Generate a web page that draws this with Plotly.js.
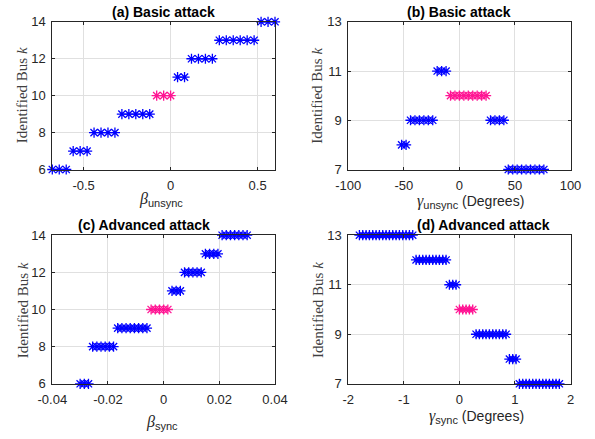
<!DOCTYPE html>
<html>
<head>
<meta charset="utf-8">
<script src="https://cdn.plot.ly/plotly-3.0.1.min.js"></script>
<style>html,body{margin:0;padding:0;background:#fff;}#chart{width:595px;height:439px;}</style>
</head>
<body>
<div id="chart"></div>
<script>
// ---- Data ----
// (a) Basic attack: beta_unsync vs identified bus
const betaUnsync = [-0.68,-0.64,-0.60,-0.56,-0.52,-0.48,-0.44,-0.40,-0.36,-0.32,-0.28,-0.24,-0.20,-0.16,-0.12,-0.08,-0.04,0,0.04,0.08,0.12,0.16,0.20,0.24,0.28,0.32,0.36,0.40,0.44,0.48,0.52,0.56,0.60];
const busA = [6,6,6,7,7,7,8,8,8,8,9,9,9,9,9,10,10,10,11,11,12,12,12,12,13,13,13,13,13,13,14,14,14];
// (b) Basic attack: gamma_unsync (degrees)
const gammaUnsync = [-52,-48,-44,-40,-36,-32,-28,-24,-20,-16,-12,-8,-4,0,4,8,12,16,20,24,28,32,36,40,44,48,52,56,60,64,68,72,76];
const busB = [8,8,9,9,9,9,9,9,11,11,11,10,10,10,10,10,10,10,10,10,9,9,9,9,7,7,7,7,7,7,7,7,7];
// (c) Advanced attack: beta_sync
const betaSync = [-0.030,-0.0285,-0.027,-0.0255,-0.024,-0.0225,-0.021,-0.0195,-0.018,-0.0165,-0.015,-0.0135,-0.012,-0.0105,-0.009,-0.0075,-0.006,-0.0045,-0.003,-0.0015,0,0.0015,0.003,0.0045,0.006,0.0075,0.009,0.0105,0.012,0.0135,0.015,0.0165,0.018,0.0195,0.021,0.0225,0.024,0.0255,0.027,0.0285,0.030];
const busC = [6,6,6,8,8,8,8,8,8,9,9,9,9,9,9,9,9,10,10,10,10,10,11,11,11,12,12,12,12,12,13,13,13,13,14,14,14,14,14,14,14];
// (d) Advanced attack: gamma_sync (degrees)
const gammaSync = [-1.80,-1.74,-1.68,-1.62,-1.56,-1.50,-1.44,-1.38,-1.32,-1.26,-1.20,-1.14,-1.08,-1.02,-0.96,-0.90,-0.84,-0.78,-0.72,-0.66,-0.60,-0.54,-0.48,-0.42,-0.36,-0.30,-0.24,-0.18,-0.12,-0.06,0,0.06,0.12,0.18,0.24,0.30,0.36,0.42,0.48,0.54,0.60,0.66,0.72,0.78,0.84,0.90,0.96,1.02,1.08,1.14,1.20,1.26,1.32,1.38,1.44,1.50,1.56,1.62,1.68,1.74,1.80];
const busD = [13,13,13,13,13,13,13,13,13,13,13,13,13,13,13,13,13,12,12,12,12,12,12,12,12,12,12,11,11,11,10,10,10,10,10,9,9,9,9,9,9,9,9,9,9,8,8,8,7,7,7,7,7,7,7,7,7,7,7,7,7];
const trueBus = 10;

// Tick values / labels
const xTicksA = [-0.5, 0, 0.5], xLabelsA = ['-0.5','0','0.5'];
const yTicksAC = [6,8,10,12,14], yLabelsAC = ['6','8','10','12','14'];
const xTicksB = [-100,-50,0,50,100], xLabelsB = ['-100','-50','0','50','100'];
const yTicksBD = [7,9,11,13], yLabelsBD = ['7','9','11','13'];
const xTicksC = [-0.04,-0.02,0,0.02,0.04], xLabelsC = ['-0.04','-0.02','0','0.02','0.04'];
const xTicksD = [-2,-1,0,1,2], xLabelsD = ['-2','-1','0','1','2'];

const titles = ['(a) Basic attack','(b) Basic attack','(c) Advanced attack','(d) Advanced attack'];

// ---- Styling ----
const W = 595, H = 439;
const BLUE = '#0000ff', PINK = '#ff1493';
const AX = '#262626';
const px = x => x / W;
const py = y => 1 - y / H;

function traces(xs, ys, xa, ya) {
  const blueX = [], blueY = [], pinkX = [], pinkY = [];
  xs.forEach((v, i) => {
    if (ys[i] === trueBus) { pinkX.push(v); pinkY.push(ys[i]); }
    else { blueX.push(v); blueY.push(ys[i]); }
  });
  const mk = c => ({symbol: 'asterisk-open', size: 8.5, color: c, line: {color: c, width: 1.3}});
  return [
    {x: blueX, y: blueY, xaxis: xa, yaxis: ya, type: 'scatter', mode: 'markers', marker: mk(BLUE), cliponaxis: false, showlegend: false, hoverinfo: 'x+y'},
    {x: pinkX, y: pinkY, xaxis: xa, yaxis: ya, type: 'scatter', mode: 'markers', marker: mk(PINK), cliponaxis: false, showlegend: false, hoverinfo: 'x+y'}
  ];
}

const data = [].concat(
  traces(betaUnsync, busA, 'x', 'y'),
  traces(gammaUnsync, busB, 'x2', 'y2'),
  traces(betaSync, busC, 'x3', 'y3'),
  traces(gammaSync, busD, 'x4', 'y4')
);

function axis(domain, range, tv, tt, anchor, isY) {
  return {
    domain: domain, range: range, anchor: anchor,
    tickmode: 'array', tickvals: tv, ticktext: tt,
    showgrid: true, gridcolor: '#e0e0e0', gridwidth: 1,
    zeroline: false, showline: true, linecolor: AX, linewidth: 1,
    mirror: 'ticks', ticks: 'inside', ticklen: 3, tickcolor: AX, tickwidth: 1,
    tickfont: {family: 'Liberation Sans, Arial, sans-serif', size: 13, color: AX},
    ticklabelstandoff: isY ? 3 : 4,
    fixedrange: true
  };
}

const leftDom = [px(52.3), px(275)];
const rightDom = [px(348.3), px(570.5)];
const topDom = [py(169.5), py(21.8)];
const botDom = [py(383.8), py(235.2)];

const serif = 'Liberation Serif, DejaVu Serif, serif';
const sans = 'Liberation Sans, Arial, sans-serif';

function ann(text, x, y, opts) {
  return Object.assign({xref: 'paper', yref: 'paper', x: px(x), y: py(y), text: text, showarrow: false,
    xanchor: 'center', yanchor: 'middle'}, opts);
}

const ylab = 'Identified Bus <i>k</i>';
const yfont = {family: serif, size: 15, color: '#404040'};
const titleFont = {family: sans, size: 14, color: '#000'};
const xfont = {family: sans, size: 14, color: AX};
const greek = g => '<span style="font-family:Liberation Serif, DejaVu Serif, serif;font-size:16px"><i>' + g + '</i></span>';
const sub = s => '<sub><span style="font-size:11px">' + s + '</span></sub>';

const annotations = [
  ann('<b>' + titles[0] + '</b>', 163.3, 11.5, {font: titleFont}),
  ann('<b>' + titles[1] + '</b>', 458.5, 11.5, {font: titleFont}),
  ann('<b>' + titles[2] + '</b>', 143.7, 225, {font: titleFont}),
  ann('<b>' + titles[3] + '</b>', 483, 225, {font: titleFont}),
  ann(ylab, 21.7, 95.5, {font: yfont, textangle: -90}),
  ann(ylab, 316.7, 96, {font: yfont, textangle: -90}),
  ann(ylab, 23.3, 310, {font: yfont, textangle: -90}),
  ann(ylab, 318, 310, {font: yfont, textangle: -90}),
  ann(greek('β') + sub('unsync'), 160.5, 199.5, {font: xfont}),
  ann(greek('γ') + sub('unsync') + ' (Degrees)', 470, 201, {font: xfont}),
  ann(greek('β') + sub('sync'), 162, 422, {font: xfont}),
  ann(greek('γ') + sub('sync') + ' (Degrees)', 476, 416, {font: xfont})
];

const layout = {
  width: W, height: H,
  margin: {l: 0, r: 0, t: 0, b: 0},
  paper_bgcolor: '#fff', plot_bgcolor: '#fff',
  showlegend: false,
  xaxis: axis(leftDom, [-0.68, 0.60], xTicksA, xLabelsA, 'y', false),
  yaxis: axis(topDom, [6, 14], yTicksAC, yLabelsAC, 'x', true),
  xaxis2: axis(rightDom, [-100, 100], xTicksB, xLabelsB, 'y2', false),
  yaxis2: axis(topDom, [7, 13], yTicksBD, yLabelsBD, 'x2', true),
  xaxis3: axis(leftDom, [-0.04, 0.04], xTicksC, xLabelsC, 'y3', false),
  yaxis3: axis(botDom, [6, 14], yTicksAC, yLabelsAC, 'x3', true),
  xaxis4: axis(rightDom, [-2, 2], xTicksD, xLabelsD, 'y4', false),
  yaxis4: axis(botDom, [7, 13], yTicksBD, yLabelsBD, 'x4', true),
  annotations: annotations
};

Plotly.newPlot('chart', data, layout, {displayModeBar: false, staticPlot: true});
</script>
</body>
</html>
